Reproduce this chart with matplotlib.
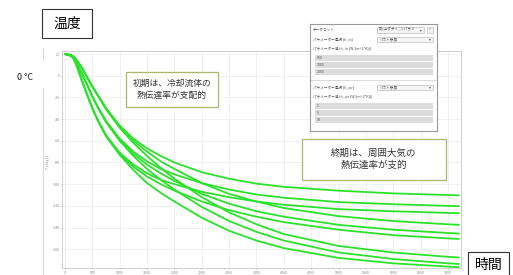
import numpy as np
import matplotlib.pyplot as plt
from matplotlib.patches import Rectangle
from matplotlib.lines import Line2D

# ============================================================
# DATA
# ============================================================

time_s = [0, 100, 150, 200, 300, 400, 500, 600, 750, 1000, 1250, 1500,
          1750, 2000, 2500, 3000, 3500, 4000, 5000, 6000, 7000, 7200]

# h_in = 500 (slow start)
curve_500_1 = [20, 19.2, 17.8, 15, 8, -1, -10, -18, -30, -46, -58, -67,
               -74, -80, -89, -95, -99.5, -102.5, -106, -108.5, -110, -110.3]
curve_500_5 = [20, 19.2, 17.8, 15, 8, -1, -10, -18, -30, -47, -60, -70,
               -79, -86, -99, -109, -116, -122, -129.5, -134, -137, -137.5]
curve_500_10 = [20, 19.2, 17.8, 15, 8, -1, -10, -18.5, -31, -48, -62, -74,
                -85, -95, -112, -126, -137, -146, -157, -163, -167, -167.6]

# h_in = 1000
curve_1000_1 = [20, 18.8, 16.8, 13, 3, -8, -19, -29, -42, -58, -70, -79,
                -86, -91, -99, -105, -109.5, -112.5, -116.5, -118.5, -120, -120.3]
curve_1000_5 = [20, 18.8, 16.8, 13, 3, -8, -19, -29, -42, -59, -72, -82,
                -90, -97, -109, -118, -125, -130, -137.5, -142, -145, -145.5]
curve_1000_10 = [20, 18.8, 16.8, 13, 3, -8, -19, -29.5, -43, -60, -74, -86,
                 -96, -105, -121, -134, -144, -152, -163, -169, -173, -173.6]

# h_in = 2000 (fast start)
curve_2000_1 = [20, 18.5, 16.5, 11, -3, -17, -30, -41, -55, -71, -82, -90,
                -96, -100, -107, -112, -116, -119, -123, -125, -126.5, -126.8]
curve_2000_5 = [20, 18.5, 16.5, 11, -3, -17, -30, -41, -55, -72, -84, -93,
                -100, -106, -116, -124, -130, -135, -142, -147, -150, -150.5]
curve_2000_10 = [20, 18.5, 16.5, 11, -3, -17, -30, -41.5, -56, -73, -87, -99,
                 -108, -116, -131, -143, -152, -159, -168, -173, -176, -176.5]

curves = [curve_500_1, curve_500_5, curve_500_10,
          curve_1000_1, curve_1000_5, curve_1000_10,
          curve_2000_1, curve_2000_5, curve_2000_10]

x_ticks = list(range(0, 7001, 500))
y_ticks = [20, 0, -20, -40, -60, -80, -100, -120, -140, -160]

h_in_values = ["500", "1000", "2000"]
h_air_values = ["1", "5", "10"]

# ============================================================
# FIGURE
# ============================================================

W, H = 513, 275
JP = ["Noto Sans CJK JP", "DejaVu Sans"]
plt.rcParams["font.family"] = JP

fig = plt.figure(figsize=(W / 100, H / 100), dpi=100)


def rect(x0, y0, x1, y1):
    # pixel box (top-left origin) -> figure fraction
    return [x0 / W, 1 - y1 / H, (x1 - x0) / W, (y1 - y0) / H]


def fig_box(x0, y0, x1, y1, ec, lw):
    r = rect(x0, y0, x1, y1)
    fig.add_artist(Rectangle((r[0], r[1]), r[2], r[3], transform=fig.transFigure,
                             fc="white", ec=ec, lw=lw, zorder=4))


ax = fig.add_axes(rect(62, 51, 461, 268))

for c in curves:
    ax.plot(time_s, c, color="#2be22b", linewidth=1.3, solid_capstyle="round")

ax.set_xlim(-55, 7238)
ax.set_ylim(-177.3, 22.8)
ax.set_xticks(x_ticks)
ax.set_yticks(y_ticks)
ax.set_xticklabels([str(v) for v in x_ticks])
ax.set_yticklabels([str(v) for v in y_ticks])
ax.tick_params(labelsize=2.6, colors="#888888", length=1, width=0.4, pad=0.8)
ax.grid(True, color="#ebebeb", linewidth=0.5)
ax.set_axisbelow(True)
for s in ax.spines.values():
    s.set_color("#c8c8c8")
    s.set_linewidth(0.6)

fig.text(48 / W, 1 - 162 / H, "T (degC)", rotation=90, fontsize=2.6,
         color="#888888", ha="center", va="center")

# widget border at left
fig.add_artist(Line2D([43 / W, 43 / W], [1 - 48 / H, 1 - 60 / H],
                      color="#cfcfcf", linewidth=0.6))
fig.add_artist(Line2D([43 / W, 43 / W], [1 - 88 / H, 0],
                      color="#cfcfcf", linewidth=0.6))

# ============================================================
# LABELS
# ============================================================

fig_box(42, 9, 92, 38, "#333333", 0.8)
fig.text(67 / W, 1 - 24 / H, "温度", fontsize=10, ha="center", va="center",
         zorder=5)
fig_box(468, 252, 509, 280, "#333333", 0.8)
fig.text(488.5 / W, 1 - 265 / H, "時間", fontsize=10, ha="center", va="center",
         zorder=5)
fig.text(25 / W, 1 - 77 / H, "0 °C", fontsize=6.5, ha="center", va="center",
         color="#222222")

fig_box(126, 72, 218, 107, "#a9b86c", 0.9)
fig.text(172 / W, 1 - 89.5 / H, "初期は、冷却流体の\n熱伝達率が支配的", fontsize=6.3,
         ha="center", va="center", linespacing=1.35, color="#333333", zorder=5)
fig_box(302, 139, 446, 180, "#a9b86c", 0.9)
fig.text(374 / W, 1 - 159.5 / H, "終期は、周囲大気の\n熱伝達率が支的", fontsize=6.8,
         ha="center", va="center", linespacing=1.35, color="#333333", zorder=5)

# ============================================================
# PARAMETER PANEL (inset)
# ============================================================

pan = fig.add_axes(rect(310, 24, 437, 131), zorder=5)
pan.set_xlim(0, 127)
pan.set_ylim(107, 0)
pan.set_xticks([])
pan.set_yticks([])
pan.set_facecolor("white")
for s in pan.spines.values():
    s.set_color("#9a9a9a")
    s.set_linewidth(0.8)

fs = 2.6
tc = "#555555"


def dropdown(y0, y1, x0, x1, text):
    pan.add_patch(Rectangle((x0, y0), x1 - x0, y1 - y0, fc="#f4f4f4",
                            ec="#b0b0b0", lw=0.4))
    pan.text(x0 + 2, (y0 + y1) / 2, text, fontsize=fs, color=tc, va="center")
    pan.text(x1 - 2, (y0 + y1) / 2, "▾", fontsize=fs, color=tc, va="center",
             ha="right", family="DejaVu Sans")


pan.text(3, 5.5, "データセット:", fontsize=fs, color=tc, va="center")
dropdown(3, 8.5, 67, 114, "熱_上ダティ_ンパラメ")
pan.add_patch(Rectangle((116.5, 3), 6, 5.5, fc="#f4f4f4", ec="#b0b0b0", lw=0.4))
pan.text(119.5, 5.8, "?", fontsize=fs, color=tc, va="center", ha="center")

pan.text(3, 15, "パラメーター選択 (h_in)", fontsize=fs, color=tc, va="center")
dropdown(12.5, 17.5, 67, 123, "リスト参照")
pan.text(3, 24, "パラメーター値 (h_in (W/(m^2*K)))", fontsize=fs, color=tc,
         va="center")
for i, v in enumerate(h_in_values):
    y0 = 31 + i * 7
    pan.add_patch(Rectangle((5, y0), 118, 5.5, fc="#dcdcdc", ec="none"))
    pan.text(7, y0 + 2.8, v, fontsize=fs, color=tc, va="center")

pan.plot([1, 126], [56, 56], color="#cccccc", lw=0.5)

pan.text(3, 63, "パラメーター選択 (h_air)", fontsize=fs, color=tc, va="center")
dropdown(60.5, 65.5, 67, 123, "リスト参照")
pan.text(3, 72, "パラメーター値 (h_air (W/(m^2*K)))", fontsize=fs, color=tc,
         va="center")
for i, v in enumerate(h_air_values):
    y0 = 79 + i * 7
    pan.add_patch(Rectangle((5, y0), 118, 5.5, fc="#dcdcdc", ec="none"))
    pan.text(7, y0 + 2.8, v, fontsize=fs, color=tc, va="center")

fig.savefig("out.png", dpi=100)
